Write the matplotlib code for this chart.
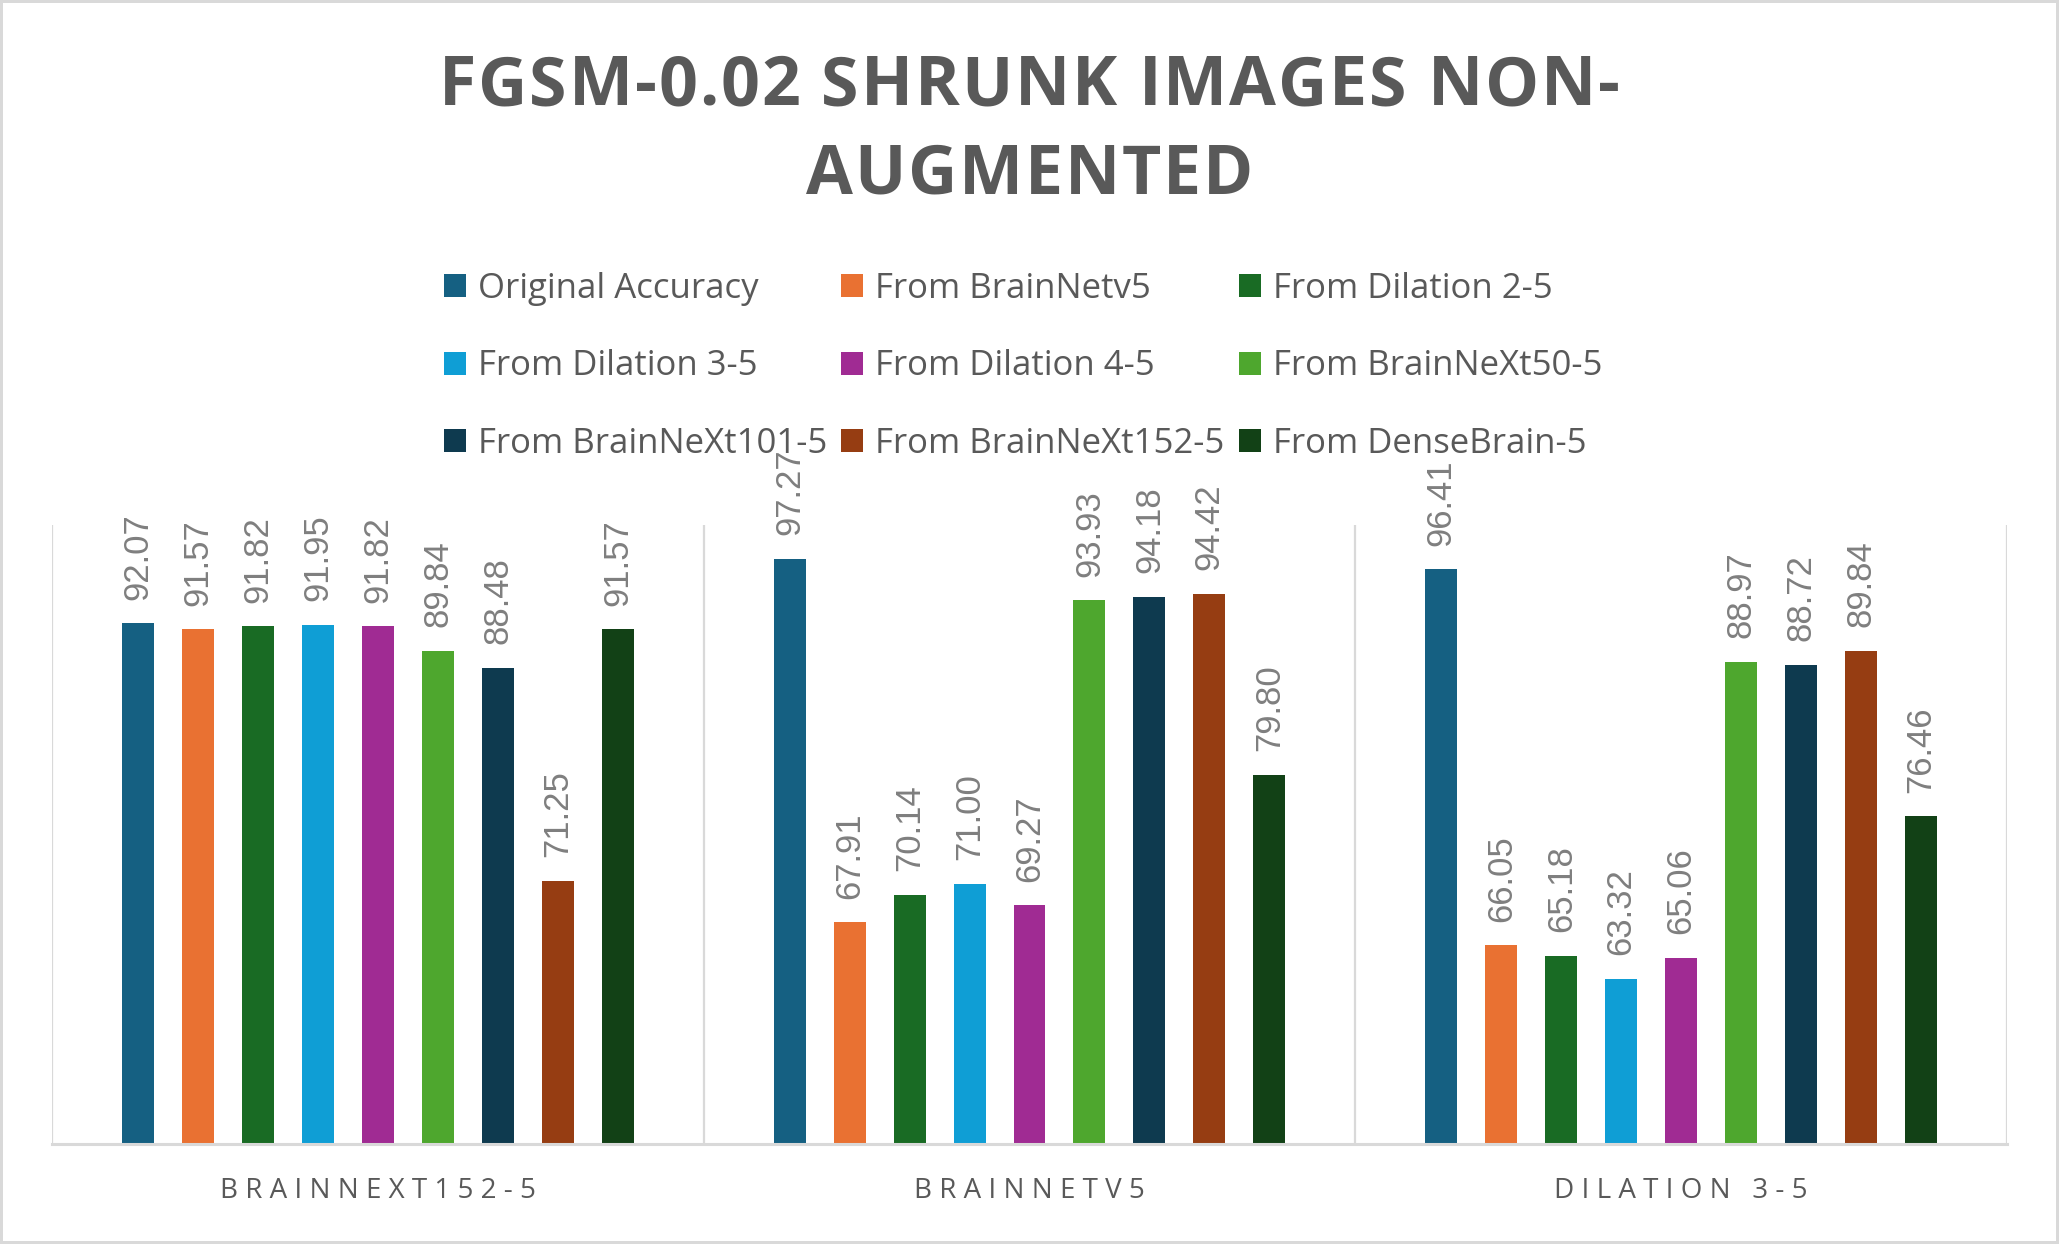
import matplotlib
matplotlib.use("Agg")
import numpy as np
import matplotlib.pyplot as plt
from matplotlib import font_manager
from matplotlib.ft2font import FT2Font
from matplotlib.patches import Patch, Rectangle

categories = ["BRAINNEXT152-5", "BRAINNETV5", "DILATION 3-5"]
series_names = ["Original Accuracy", "From BrainNetv5", "From Dilation 2-5",
                "From Dilation 3-5", "From Dilation 4-5", "From BrainNeXt50-5",
                "From BrainNeXt101-5", "From BrainNeXt152-5", "From DenseBrain-5"]

original_accuracy = [92.07, 97.27, 96.41]
from_brainnetv5 = [91.57, 67.91, 66.05]
from_dilation_2_5 = [91.82, 70.14, 65.18]
from_dilation_3_5 = [91.95, 71.00, 63.32]
from_dilation_4_5 = [91.82, 69.27, 65.06]
from_brainnext50 = [89.84, 93.93, 88.97]
from_brainnext101 = [88.48, 94.18, 88.72]
from_brainnext152 = [71.25, 94.42, 89.84]
from_densebrain = [91.57, 79.80, 76.46]

colors = ["#156082", "#E97132", "#196B24", "#0F9ED5", "#A02B93",
          "#4EA72E", "#0E3A4F", "#963D12", "#124116"]

TEXT_GREY = "#595959"
LABEL_GREY = "#7f7f7f"
LINE_GREY = "#d9d9d9"


def tracked_line(fig, text, y_px, size, track_px, family, weight, color):
    # draw one line of letter-spaced text centred on the figure
    path = font_manager.findfont(font_manager.FontProperties(family=family, weight=weight))
    ft = FT2Font(path, hinting_factor=1)
    ft.set_size(size, fig.dpi)
    adv = [ft.load_char(ord(ch)).linearHoriAdvance / 65536 for ch in text]
    total = sum(adv) + track_px * (len(text) - 1)
    W, H = fig.bbox.width, fig.bbox.height
    x = W / 2 - total / 2
    for ch, a in zip(text, adv):
        fig.text(x / W, 1 - y_px / H, ch, ha="left", va="baseline", fontsize=size,
                 family=family, weight=weight, color=color)
        x += a + track_px


def natural_width(fig, text, size, family, weight):
    path = font_manager.findfont(font_manager.FontProperties(family=family, weight=weight))
    ft = FT2Font(path, hinting_factor=1)
    ft.set_size(size, fig.dpi)
    return sum(ft.load_char(ord(ch)).linearHoriAdvance / 65536 for ch in text)


def main():
    series = [original_accuracy, from_brainnetv5, from_dilation_2_5, from_dilation_3_5,
              from_dilation_4_5, from_brainnext50, from_brainnext101, from_brainnext152,
              from_densebrain]

    fig = plt.figure(figsize=(20.59, 12.44), dpi=100)
    ax = fig.add_axes([0.02525, 0.0804, 0.9495, 0.4976])

    x = np.arange(len(categories))
    slot = 0.092
    width = 0.049
    handles = []
    for j, (name, vals) in enumerate(zip(series_names, series)):
        bars = ax.bar(x + (j - 4) * slot, vals, width, color=colors[j], label=name, zorder=3)
        ax.bar_label(bars, fmt="%.2f", rotation=90, padding=17, fontsize=25,
                     color=LABEL_GREY, family="Liberation Sans")
        handles.append(Patch(facecolor=colors[j], label=name))

    ax.set_xlim(-0.5, len(categories) - 0.5)
    ax.set_ylim(50, 100)
    for b in np.arange(len(categories) + 1) - 0.5:
        ax.axvline(b, color=LINE_GREY, lw=1.6, zorder=1)
    for s in ["top", "left", "right"]:
        ax.spines[s].set_visible(False)
    ax.spines["bottom"].set_color(LINE_GREY)
    ax.spines["bottom"].set_linewidth(2.2)
    ax.spines["bottom"].set_zorder(4)
    ax.set_yticks([])
    ax.set_xticks(x)
    ax.set_xticklabels([" ".join(c) for c in categories], fontsize=20,
                       family="Open Sans", color=TEXT_GREY)
    ax.tick_params(axis="x", length=0, pad=24)

    # legend laid out row by row like the original
    order = [0, 3, 6, 1, 4, 7, 2, 5, 8]
    fig.legend([handles[i] for i in order], [series_names[i] for i in order],
               ncol=3, loc="upper left", bbox_to_anchor=(0.2156, 0.7814),
               frameon=False, borderpad=0, borderaxespad=0,
               handlelength=0.634, handleheight=0.634, handletextpad=0.35,
               labelspacing=1.25, columnspacing=0.4,
               prop={"family": "Open Sans", "size": 25}, labelcolor=TEXT_GREY)

    # title with wide letter spacing
    line1 = "FGSM-0.02 SHRUNK IMAGES NON-"
    line2 = "AUGMENTED"
    tsize = 49
    nat = natural_width(fig, line1, tsize, "Open Sans", "bold")
    track = (1181 - nat) / (len(line1) - 1)
    tracked_line(fig, line1, 105, tsize, track, "Open Sans", "bold", TEXT_GREY)
    tracked_line(fig, line2, 194, tsize, track, "Open Sans", "bold", TEXT_GREY)

    fig.patches.append(Rectangle((0, 0), 1, 1, transform=fig.transFigure, fill=False,
                                 edgecolor=LINE_GREY, linewidth=4.3))

    fig.savefig("out.png", dpi=100, facecolor="white")
    plt.close(fig)


if __name__ == "__main__":
    main()
